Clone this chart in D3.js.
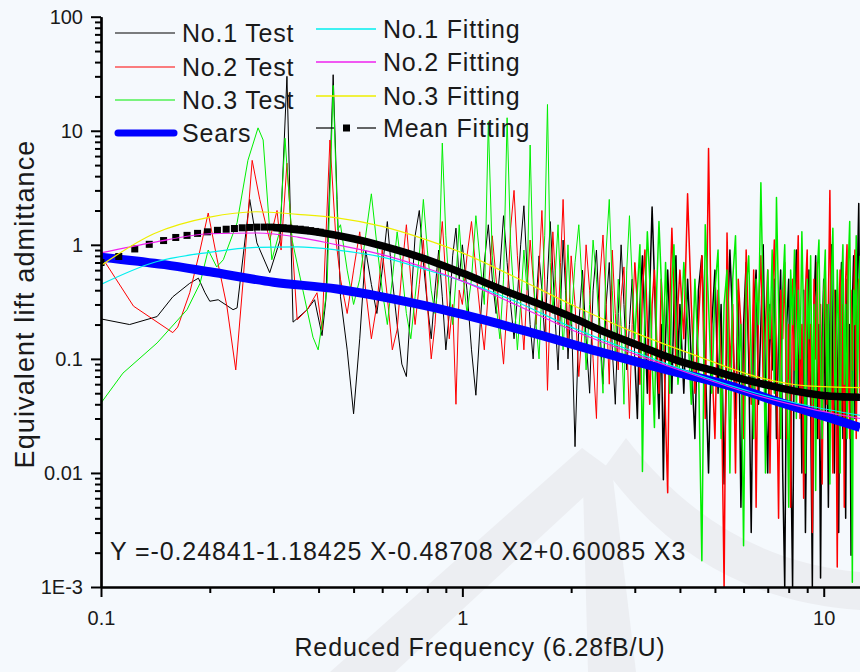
<!DOCTYPE html>
<html>
<head>
<meta charset="utf-8">
<script src="https://cdn.jsdelivr.net/npm/d3@7"></script>
<style>
  body { margin: 0; background: #f5f9fd; }
  svg { display: block; font-family: "Liberation Sans", Arial, sans-serif; }
</style>
</head>
<body>
<svg width="860" height="672"></svg>
<script>
// ---- data ----
var xTickValues = [0.1, 1, 10];
var xTickLabels = ["0.1", "1", "10"];
var yTickValues = [0.001, 0.01, 0.1, 1, 10, 100];
var yTickLabels = ["1E-3", "0.01", "0.1", "1", "10", "100"];

// low frequency part of each test, vertices
var test1LoK = [0.100, 0.120, 0.143, 0.158, 0.176, 0.186, 0.194, 0.200, 0.211, 0.232, 0.238, 0.258, 0.270, 0.293, 0.313, 0.327, 0.340, 0.372, 0.390, 0.409, 0.419, 0.439, 0.450];
var test1Lo  = [0.224, 0.20, 0.235, 0.35, 0.46, 0.51, 0.38, 0.32, 0.33, 0.27, 0.28, 2.5, 1.04, 0.57, 1.1, 30, 0.21, 0.27, 0.33, 0.16, 0.33, 31, 2.5];
var test2LoK = [0.100, 0.123, 0.158, 0.163, 0.176, 0.188, 0.198, 0.209, 0.223, 0.236, 0.247, 0.262, 0.275, 0.293, 0.307, 0.315, 0.327, 0.349, 0.372, 0.396, 0.409, 0.430, 0.447];
var test2Lo  = [0.80, 0.29, 0.17, 0.19, 0.38, 0.90, 1.9, 0.78, 0.29, 0.08, 0.46, 5.5, 2.5, 1.1, 2.0, 0.9, 5.2, 0.22, 0.27, 0.38, 0.18, 8.3, 1.1];
var test3LoK = [0.100, 0.115, 0.143, 0.173, 0.188, 0.198, 0.209, 0.218, 0.238, 0.255, 0.272, 0.281, 0.297, 0.313, 0.323, 0.338, 0.362, 0.386, 0.399, 0.422, 0.439, 0.452];
var test3Lo  = [0.041, 0.075, 0.138, 0.27, 0.46, 0.90, 0.64, 0.74, 1.56, 5.5, 10.6, 8.3, 0.74, 1.35, 8.6, 1.1, 0.40, 0.155, 0.12, 0.40, 25, 1.35];

// higher frequency part, shared frequency bins
var freqHi = [0.46, 0.48, 0.50, 0.52, 0.54, 0.56, 0.58, 0.60, 0.62, 0.64, 0.66, 0.68, 0.70, 0.72, 0.74, 0.76, 0.78, 0.80, 0.82, 0.84, 0.86, 0.88, 0.90, 0.92, 0.94, 0.96, 0.98,
  1.00, 1.03, 1.06, 1.09, 1.12, 1.15, 1.18, 1.21, 1.24, 1.27, 1.30, 1.33, 1.36, 1.39, 1.42, 1.45, 1.48, 1.51, 1.54, 1.57, 1.60, 1.63, 1.66, 1.69, 1.72, 1.75, 1.78, 1.81, 1.84, 1.87, 1.90, 1.93, 1.96,
  2.00, 2.05, 2.10, 2.15, 2.20, 2.25, 2.30, 2.35, 2.40, 2.45, 2.50, 2.55, 2.60, 2.65, 2.70, 2.75, 2.80, 2.85, 2.90, 2.95, 3.00, 3.05, 3.10, 3.15, 3.20, 3.25, 3.30, 3.35, 3.40, 3.45, 3.50, 3.55, 3.60, 3.65, 3.70, 3.75, 3.80, 3.85, 3.90, 3.95,
  4.0, 4.1, 4.2, 4.3, 4.4, 4.5, 4.6, 4.7, 4.8, 4.9, 5.0, 5.1, 5.2, 5.3, 5.4, 5.5, 5.6, 5.7, 5.8, 5.9, 6.0, 6.1, 6.2, 6.3, 6.4, 6.5, 6.6, 6.7, 6.8, 6.9,
  7.0, 7.1, 7.2, 7.3, 7.4, 7.5, 7.6, 7.7, 7.8, 7.9, 8.0, 8.1, 8.2, 8.3, 8.4, 8.5, 8.6, 8.7, 8.8, 8.9, 9.0, 9.1, 9.2, 9.3, 9.4, 9.5, 9.6, 9.7, 9.8, 9.9,
  10.0, 10.1, 10.2, 10.3, 10.4, 10.5, 10.6, 10.7, 10.8, 10.9, 11.0, 11.1, 11.2, 11.3, 11.4, 11.5, 11.6, 11.7, 11.8, 11.9, 12.0, 12.1, 12.2, 12.3, 12.4, 12.5, 12.6];

var test1Hi = [0.35, 0.12, 0.033, 0.15, 0.9, 0.45, 0.25, 0.6, 1.6, 0.5, 0.2, 0.09, 0.07, 0.3, 1.2, 2.0, 0.7, 0.3, 0.15, 0.4, 0.9, 0.35, 0.12, 0.25, 0.8, 1.4, 0.5,
  1.0, 0.4, 0.12, 0.048, 0.2, 0.7, 1.5, 0.5, 0.25, 0.6, 1.8, 0.7, 0.3, 0.15, 0.35, 1.0, 2.2, 0.6, 0.2, 0.1, 0.3, 0.8, 0.4, 0.15, 0.5, 1.6, 0.6, 0.2, 0.08, 0.3, 1.1, 0.4, 0.1,
  0.3, 0.017, 0.2, 0.6, 0.15, 0.05, 0.4, 0.9, 0.2, 0.06, 0.3, 0.7, 0.12, 0.04, 0.25, 1.0, 0.3, 0.08, 0.2, 0.5, 0.1, 0.03, 0.3, 0.8, 0.2, 0.05, 0.4, 2.15, 0.5, 0.1, 0.03, 0.2, 0.0087, 0.15, 0.6, 0.2, 0.05, 0.3, 0.8, 0.1,
  0.3, 0.05, 0.5, 0.1, 0.02, 0.4, 0.8, 0.1, 0.01, 0.2, 0.6, 0.05, 0.3, 0.008, 0.15, 0.9, 0.2, 0.03, 0.4, 0.005, 0.2, 0.7, 0.1, 0.003, 0.3, 0.6, 0.04, 0.2, 1.0, 0.05,
  0.01, 0.3, 0.08, 0.5, 0.02, 0.15, 0.6, 0.01, 0.001, 0.2, 0.5, 0.02, 0.001, 0.3, 0.9, 0.05, 0.2, 0.01, 0.4, 0.003, 0.1, 0.6, 0.04, 0.001, 0.3, 0.8, 0.02, 0.2, 0.0012, 0.15,
  0.5, 0.03, 0.3, 0.005, 0.2, 1.0, 0.05, 0.01, 0.4, 0.1, 0.003, 0.3, 0.7, 0.02, 0.15, 0.004, 0.5, 0.05, 0.2, 0.0019, 0.3, 0.8, 0.03, 0.2, 0.6, 2.3, 0.1];

var test2Hi = [0.5, 0.25, 0.6, 1.3, 0.4, 0.15, 0.3, 0.9, 0.35, 0.12, 0.18, 0.6, 1.5, 0.5, 0.2, 0.45, 1.1, 0.3, 0.1, 0.2, 0.7, 1.6, 0.5, 0.15, 0.3, 0.04, 0.4,
  0.3, 0.8, 1.6, 0.6, 0.25, 0.12, 0.4, 1.2, 0.5, 0.2, 0.09, 0.3, 1.4, 3.0, 0.8, 0.3, 0.12, 0.4, 1.1, 0.5, 0.2, 0.6, 2.0, 0.5, 0.053, 0.3, 1.3, 0.5, 0.2, 0.7, 2.5, 0.6, 0.15,
  0.8, 0.3, 0.07, 0.2, 1.0, 0.4, 0.1, 0.03, 0.5, 1.22, 0.3, 0.06, 0.9, 0.25, 0.08, 0.35, 0.64, 0.15, 0.03, 0.2, 0.7, 0.3, 0.06, 0.4, 0.9, 0.2, 0.04, 0.3, 0.6, 0.15, 0.05, 0.5, 0.2, 0.03, 0.0067, 0.3, 1.4, 0.4, 0.08, 0.3,
  0.6, 0.15, 2.8, 0.3, 0.05, 0.2, 0.8, 0.03, 7.0, 0.1, 0.02, 0.4, 0.1, 0.001, 1.27, 0.08, 0.3, 0.01, 0.5, 0.2, 0.02, 0.9, 0.15, 0.04, 0.6, 0.005, 0.3, 0.8, 0.06, 0.2,
  0.6, 0.01, 0.3, 1.1, 0.1, 0.004, 0.4, 0.15, 0.7, 0.02, 0.2, 0.005, 0.5, 0.08, 0.3, 1.2, 0.03, 0.2, 0.006, 0.4, 0.9, 0.05, 0.2, 0.003, 0.5, 0.1, 0.7, 0.02, 0.3, 0.008,
  0.2, 0.6, 0.04, 0.3, 3.0, 0.1, 0.01, 0.4, 0.08, 0.0015, 0.2, 0.6, 0.03, 0.3, 0.005, 0.5, 1.0, 0.1, 0.02, 0.4, 0.08, 0.3, 0.9, 0.02, 0.2, 0.5, 0.05];

var test3Hi = [1.5, 0.6, 0.3, 0.5, 1.2, 2.8, 1.0, 0.4, 0.2, 0.5, 1.3, 0.6, 0.25, 0.15, 0.35, 0.8, 2.5, 0.9, 0.4, 0.25, 0.5, 7.8, 1.2, 0.4, 0.2, 0.5, 1.5,
  0.6, 0.25, 0.5, 1.8, 0.7, 0.3, 12, 0.8, 0.3, 0.15, 0.5, 13, 1.0, 0.35, 0.12, 0.3, 0.9, 0.4, 7.5, 0.6, 0.2, 0.1, 0.4, 1.2, 17, 0.7, 0.25, 0.6, 1.5, 0.4, 0.12, 0.3, 1.0,
  0.2, 0.7, 1.5, 0.4, 0.08, 0.3, 1.1, 0.5, 0.15, 0.05, 0.9, 2.5, 0.4, 0.1, 0.5, 0.2, 0.04, 0.6, 1.8, 0.5, 0.15, 0.4, 1.0, 0.0103, 0.3, 1.3, 0.5, 0.1, 0.025, 0.4, 1.6, 0.5, 0.12, 0.7, 0.2, 0.05, 0.5, 1.0, 0.2, 0.06,
  0.1, 0.7, 0.2, 0.04, 0.5, 0.1, 0.0017, 1.5, 0.3, 0.05, 0.4, 0.9, 0.02, 0.3, 0.6, 0.01, 0.5, 1.2, 0.08, 0.2, 0.0023, 0.4, 0.8, 0.1, 0.02, 0.5, 0.2, 3.5, 0.3, 0.01,
  0.6, 0.15, 0.9, 0.05, 2.6, 0.3, 0.02, 0.4, 1.0, 0.08, 0.005, 0.6, 0.2, 0.9, 0.03, 0.4, 0.1, 1.3, 0.2, 0.01, 0.5, 0.15, 0.8, 0.04, 0.3, 0.007, 0.6, 1.1, 0.1, 0.02,
  0.4, 0.9, 0.05, 0.3, 0.008, 0.5, 1.4, 0.1, 0.03, 0.6, 0.2, 0.01, 0.4, 1.0, 0.06, 0.3, 0.02, 0.7, 1.6, 0.1, 0.0011, 0.4, 0.2, 1.2, 0.05, 0.3, 0.8];

var searsK = [0.1, 0.15, 0.2, 0.3, 0.45, 0.6, 0.8, 1.0, 1.5, 2.4, 3, 4, 5.5, 7, 9, 12.6];
var searsV = [0.78, 0.67, 0.58, 0.47, 0.41, 0.35, 0.29, 0.245, 0.175, 0.115, 0.095, 0.075, 0.058, 0.045, 0.035, 0.025];

var fitK  = [0.1, 0.14, 0.2, 0.27, 0.35, 0.45, 0.6, 0.8, 1.0, 1.4, 2.0, 3.0, 4.5, 6.5, 9, 12.6];
var fit1V = [0.45, 0.70, 0.86, 0.95, 0.96, 0.90, 0.78, 0.60, 0.48, 0.32, 0.19, 0.115, 0.072, 0.050, 0.039, 0.032];
var fit2V = [0.85, 1.05, 1.25, 1.27, 1.17, 1.0, 0.82, 0.62, 0.48, 0.30, 0.18, 0.11, 0.07, 0.048, 0.037, 0.030];
var fit3V = [0.66, 1.25, 1.75, 1.95, 1.85, 1.72, 1.45, 1.1, 0.85, 0.52, 0.30, 0.17, 0.105, 0.07, 0.058, 0.056];

// mean fitting: squares at low frequency, merged line above
var meanSqK = [0.100, 0.112, 0.124, 0.136, 0.149, 0.161, 0.173, 0.185, 0.197, 0.210, 0.222, 0.234, 0.246, 0.258, 0.270, 0.283, 0.295, 0.307, 0.319, 0.331, 0.343, 0.356, 0.368, 0.380, 0.392, 0.404];
var meanSqV = [0.70, 0.79, 0.92, 1.01, 1.09, 1.16, 1.21, 1.26, 1.30, 1.34, 1.37, 1.39, 1.41, 1.42, 1.43, 1.43, 1.43, 1.42, 1.41, 1.40, 1.38, 1.37, 1.35, 1.33, 1.31, 1.29];
var meanK = [0.30, 0.40, 0.5, 0.6, 0.7, 0.8, 1.0, 1.3, 1.6, 2.0, 2.5, 3.0, 4.0, 5.0, 6.0, 7.5, 9.0, 10.5, 12.6];
var meanV = [1.42, 1.29, 1.13, 0.98, 0.85, 0.74, 0.565, 0.40, 0.31, 0.233, 0.17, 0.135, 0.095, 0.078, 0.066, 0.056, 0.05, 0.047, 0.046];

var legendCol1 = ["No.1 Test", "No.2 Test", "No.3 Test", "Sears"];
var legendCol2 = ["No.1 Fitting", "No.2 Fitting", "No.3 Fitting", "Mean Fitting"];
var equation = "Y =-0.24841-1.18425 X-0.48708 X2+0.60085 X3";

// ---- drawing ----
var svg = d3.select("svg");
var plotLeft = 101, plotRight = 860, plotTop = 16.7, plotBottom = 587;

var x = d3.scaleLog().domain([0.1, 12.6]).range([plotLeft, plotRight]);
var y = d3.scaleLog().domain([0.001, 100]).range([plotBottom, plotTop]);

// faint watermark
var wm = svg.append("g").attr("fill", "#eceef2").attr("stroke", "none");
wm.append("path").attr("d", "M330,672 L395,672 L600,482 L582,448 Z");
wm.append("path").attr("d", "M582,448 L612,470 L636,672 L588,672 Z");
wm.append("path").attr("d", "M626,438 Q720,560 860,572 L860,610 Q700,600 604,468 Z");

svg.append("defs").append("clipPath").attr("id", "plot")
    .append("rect").attr("x", plotLeft).attr("y", plotTop)
    .attr("width", plotRight - plotLeft).attr("height", plotBottom - plotTop);

var plot = svg.append("g").attr("clip-path", "url(#plot)");

var line = d3.line()
    .x(function(d) { return x(d[0]); })
    .y(function(d) { return y(d[1]); });
var smooth = d3.line()
    .x(function(d) { return x(d[0]); })
    .y(function(d) { return y(d[1]); })
    .curve(d3.curveMonotoneX);

function addLine(data, color, width, gen) {
    plot.append("path")
        .datum(data)
        .attr("fill", "none")
        .attr("stroke", color)
        .attr("stroke-width", width)
        .attr("stroke-linejoin", "round")
        .attr("d", gen || line);
}

// test curves: thin where sparse, a bit heavier in the dense high-frequency part
function addTest(k, v, color) {
    var pts = d3.zip(k, v);
    addLine(pts.filter(function(d) { return d[0] <= 3; }), color, 1);
    addLine(pts.filter(function(d) { return d[0] >= 3; }), color, 1.5);
}
addTest(test1LoK.concat(freqHi), test1Lo.concat(test1Hi), "#000000");
addTest(test2LoK.concat(freqHi), test2Lo.concat(test2Hi), "#ff0000");
addTest(test3LoK.concat(freqHi), test3Lo.concat(test3Hi), "#00ee00");

addLine(d3.zip(searsK, searsV), "#0000ff", 9, smooth);

// mean fitting
addLine(d3.zip(meanK, meanV), "#000000", 7.5, smooth);
plot.selectAll("rect.sq")
    .data(d3.zip(meanSqK, meanSqV))
    .enter().append("rect")
    .attr("class", "sq")
    .attr("x", function(d) { return x(d[0]) - 3.5; })
    .attr("y", function(d) { return y(d[1]) - 3.5; })
    .attr("width", 7).attr("height", 7)
    .attr("fill", "#000000");

addLine(d3.zip(fitK, fit1V), "#00eeee", 1.2, smooth);
addLine(d3.zip(fitK, fit2V), "#ee22ee", 1.2, smooth);
addLine(d3.zip(fitK, fit3V), "#eeee00", 1.2, smooth);

// axes
var xMinor = x.ticks().filter(function(t) { return xTickValues.indexOf(t) < 0; });
var yMinor = y.ticks().filter(function(t) { return yTickValues.indexOf(t) < 0; });

function styleAxis(g) {
    g.attr("font-size", 20).attr("font-family", "'Liberation Sans', Arial, sans-serif");
    g.selectAll("path").attr("stroke", "#000").attr("stroke-width", 2.2);
    g.selectAll("line").attr("stroke", "#000").attr("stroke-width", 2);
    g.selectAll("text").attr("fill", "#1a1a1a");
}

svg.append("g")
    .attr("transform", "translate(0," + plotBottom + ")")
    .call(d3.axisBottom(x).tickValues(xMinor).tickSize(6).tickSizeOuter(0).tickFormat(""))
    .call(styleAxis);
svg.append("g")
    .attr("transform", "translate(0," + plotBottom + ")")
    .call(d3.axisBottom(x).tickValues(xTickValues).tickSize(10).tickSizeOuter(0).tickPadding(14)
        .tickFormat(function(d, i) { return xTickLabels[i]; }))
    .call(styleAxis);

svg.append("g")
    .attr("transform", "translate(" + plotLeft + ",0)")
    .call(d3.axisLeft(y).tickValues(yMinor).tickSize(6).tickSizeOuter(0).tickFormat(""))
    .call(styleAxis);
svg.append("g")
    .attr("transform", "translate(" + plotLeft + ",0)")
    .call(d3.axisLeft(y).tickValues(yTickValues).tickSize(10).tickSizeOuter(0).tickPadding(8)
        .tickFormat(function(d, i) { return yTickLabels[i]; }))
    .call(styleAxis);

// axis titles
svg.append("text")
    .attr("x", 480).attr("y", 656)
    .attr("text-anchor", "middle")
    .style("font-size", "25px").style("letter-spacing", "0.9px")
    .attr("fill", "#1a1a1a")
    .text("Reduced Frequency (6.28fB/U)");

svg.append("text")
    .attr("transform", "translate(34,304) rotate(-90)")
    .attr("text-anchor", "middle")
    .style("font-size", "27px").style("letter-spacing", "1.1px")
    .attr("fill", "#1a1a1a")
    .text("Equivalent lift admittance");

svg.append("text")
    .attr("x", 110).attr("y", 560)
    .style("font-size", "25px").style("letter-spacing", "0.9px")
    .attr("fill", "#1a1a1a")
    .text(equation);

// legend
var leg = svg.append("g").style("font-size", "25px").style("letter-spacing", "0.8px").attr("fill", "#1a1a1a");
var col1Colors = ["#000000", "#ff0000", "#00ee00", "#0000ff"];
var col1Width = [1.2, 1.2, 1.2, 7];
var col1Y = [33, 67, 100, 133];
legendCol1.forEach(function(name, i) {
    leg.append("line")
        .attr("x1", col1Width[i] > 2 ? 118 : 115).attr("x2", col1Width[i] > 2 ? 174 : 175)
        .attr("y1", col1Y[i]).attr("y2", col1Y[i])
        .attr("stroke", col1Colors[i]).attr("stroke-width", col1Width[i])
        .attr("stroke-linecap", col1Width[i] > 2 ? "round" : "butt");
    leg.append("text").attr("x", 182).attr("y", col1Y[i] + 9).text(name);
});

var col2Colors = ["#00eeee", "#ee22ee", "#eeee00"];
var col2Y = [29, 62, 96, 128];
legendCol2.forEach(function(name, i) {
    if (i < 3) {
        leg.append("line")
            .attr("x1", 316).attr("x2", 376)
            .attr("y1", col2Y[i]).attr("y2", col2Y[i])
            .attr("stroke", col2Colors[i]).attr("stroke-width", 1.5);
    } else {
        leg.append("line").attr("x1", 316).attr("x2", 334)
            .attr("y1", col2Y[i]).attr("y2", col2Y[i])
            .attr("stroke", "#000").attr("stroke-width", 1.2);
        leg.append("line").attr("x1", 357).attr("x2", 376)
            .attr("y1", col2Y[i]).attr("y2", col2Y[i])
            .attr("stroke", "#000").attr("stroke-width", 1.2);
        leg.append("rect").attr("x", 343).attr("y", col2Y[i] - 3.5)
            .attr("width", 7).attr("height", 7).attr("fill", "#000");
    }
    leg.append("text").attr("x", 383).attr("y", col2Y[i] + 9).text(name);
});
</script>
</body>
</html>
